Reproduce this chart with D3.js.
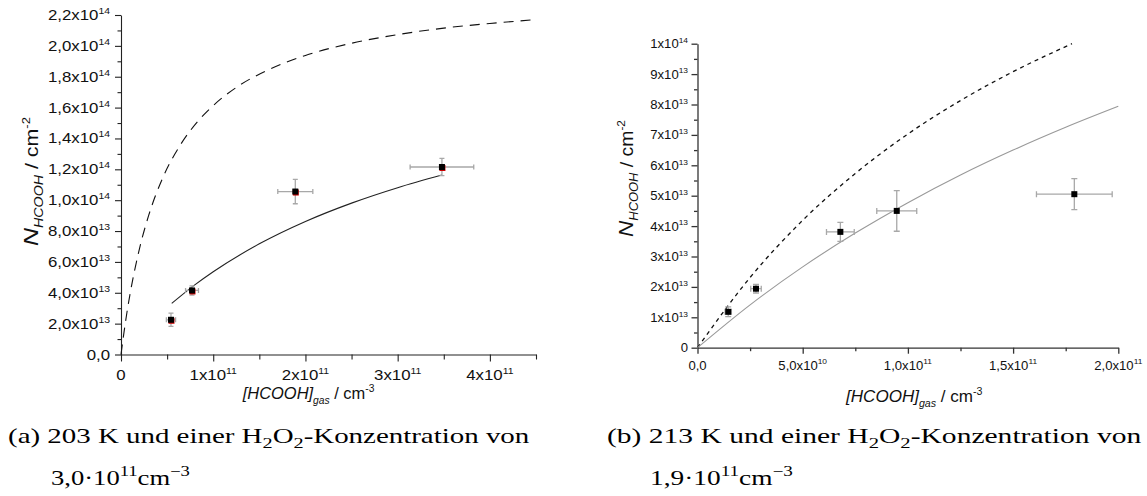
<!DOCTYPE html>
<html><head><meta charset="utf-8">
<script src="https://cdn.jsdelivr.net/npm/d3@7"></script>
<style>body{margin:0;background:#fff} svg{display:block}</style>
</head><body>
<svg id="c" width="1147" height="496"></svg>
<script>
// ---------- Panel (a): 203 K ----------
const aX    = [0.542e11, 0.77e11, 1.89e11, 3.48e11];
const aY    = [2.25e13, 4.15e13, 10.56e13, 12.15e13];
const aXErr = [0.05e11, 0.07e11, 0.19e11, 0.345e11];
const aYErr = [0.43e13, 0.30e13, 0.79e13, 0.56e13];
// solid fit curve
const aFitX = [0.55e11, 0.8e11, 1.0e11, 1.5e11, 2.0e11, 2.5e11, 3.0e11, 3.48e11];
const aFitY = [3.31e13, 4.51e13, 5.36e13, 7.17e13, 8.62e13, 9.81e13, 10.81e13, 11.63e13];
// dashed curve
const aDashX = [0, 0.05e11, 0.1e11, 0.2e11, 0.3e11, 0.45e11, 0.65e11, 0.85e11, 1.0e11, 1.3e11, 1.6e11, 2.0e11, 2.5e11, 3.0e11, 3.5e11, 4.0e11, 4.5e11];
const aDashY = [0, 2.17e13, 3.98e13, 6.85e13, 9.01e13, 11.41e13, 13.64e13, 15.22e13, 16.13e13, 17.5e13, 18.45e13, 19.38e13, 20.17e13, 20.73e13, 21.15e13, 21.45e13, 21.7e13];
const aXTicks = [0, 1e11, 2e11, 3e11, 4e11];
const aXTickLabels = ["0", "1x10^11", "2x10^11", "3x10^11", "4x10^11"];
const aXMinor = [0.5e11, 1.5e11, 2.5e11, 3.5e11, 4.5e11];
const aYTicks = [0, 2e13, 4e13, 6e13, 8e13, 10e13, 12e13, 14e13, 16e13, 18e13, 20e13, 22e13];
const aYTickLabels = ["0,0", "2,0x10^13", "4,0x10^13", "6,0x10^13", "8,0x10^13", "1,0x10^14", "1,2x10^14", "1,4x10^14", "1,6x10^14", "1,8x10^14", "2,0x10^14", "2,2x10^14"];
const aYMinor = [1e13, 3e13, 5e13, 7e13, 9e13, 11e13, 13e13, 15e13, 17e13, 19e13, 21e13];

// ---------- Panel (b): 213 K ----------
const bX    = [1.46e10, 2.78e10, 6.79e10, 9.47e10, 17.91e10];
const bY    = [1.18e13, 1.94e13, 3.81e13, 4.50e13, 5.05e13];
const bXErr = [0.15e10, 0.25e10, 0.66e10, 0.95e10, 1.80e10];
const bYErr = [0.16e13, 0.14e13, 0.31e13, 0.67e13, 0.51e13];
const bFitX = [0, 2.5e10, 5e10, 7.5e10, 10e10, 12.5e10, 15e10, 17.5e10, 20e10];
const bFitY = [0, 1.41e13, 2.66e13, 3.77e13, 4.77e13, 5.68e13, 6.50e13, 7.25e13, 7.94e13];
const bDashX = [0, 2.5e10, 5e10, 7.5e10, 10e10, 12.5e10, 15e10, 17.8e10];
const bDashY = [0, 2.31e13, 4.19e13, 5.73e13, 7.03e13, 8.13e13, 9.08e13, 10.0e13];
const bXTicks = [0, 5e10, 10e10, 15e10, 20e10];
const bXTickLabels = ["0,0", "5,0x10^10", "1,0x10^11", "1,5x10^11", "2,0x10^11"];
const bXMinor = [2.5e10, 7.5e10, 12.5e10, 17.5e10];
const bYTicks = [0, 1e13, 2e13, 3e13, 4e13, 5e13, 6e13, 7e13, 8e13, 9e13, 10e13];
const bYTickLabels = ["0", "1x10^13", "2x10^13", "3x10^13", "4x10^13", "5x10^13", "6x10^13", "7x10^13", "8x10^13", "9x10^13", "1x10^14"];
const bYMinor = [0.5e13, 1.5e13, 2.5e13, 3.5e13, 4.5e13, 5.5e13, 6.5e13, 7.5e13, 8.5e13, 9.5e13];

const captionA = ["(a) 203 K und einer H_2O_2-Konzentration von", "3,0·10^11cm^−3"];
const captionB = ["(b) 213 K und einer H_2O_2-Konzentration von", "1,9·10^11cm^−3"];

const SANS = "'Liberation Sans', Arial, sans-serif";
const SERIF = "'Liberation Serif', 'Times New Roman', serif";
const svg = d3.select("#c");

function tickLabel(g, str, x, y, anchor, size, supSize, sx) {
  const [base, sup] = str.split("^");
  const gg = g.append("g").attr("transform", `translate(${x},${y}) scale(${sx},1)`);
  const t = gg.append("text").attr("text-anchor", anchor)
    .attr("font-family", SANS).attr("font-size", size).attr("fill", "#111");
  t.append("tspan").text(base);
  if (sup) t.append("tspan").attr("font-size", supSize).attr("dy", -size * 0.42).text(sup);
}

function panel(o) {
  const g = svg.append("g");
  const x = o.x, y = o.y;
  const y0 = y.range()[0], x0 = x.range()[0];
  const gx = g.append("g").attr("transform", `translate(0,${y0})`);
  gx.call(d3.axisBottom(x).tickValues(o.xTicks).tickFormat("").tickSize(o.xMaj).tickSizeOuter(0));
  gx.append("g").call(d3.axisBottom(x).tickValues(o.xMinor).tickFormat("").tickSize(o.xMin).tickSizeOuter(0))
    .select(".domain").remove();
  const gy = g.append("g").attr("transform", `translate(${x0},0)`);
  gy.call(d3.axisLeft(y).tickValues(o.yTicks).tickFormat("").tickSize(o.yMaj).tickSizeOuter(0));
  gy.append("g").call(d3.axisLeft(y).tickValues(o.yMinor).tickFormat("").tickSize(o.yMin).tickSizeOuter(0))
    .select(".domain").remove();
  g.selectAll(".domain, .tick line").attr("stroke", o.axisColor).attr("stroke-width", o.axisW);

  o.xTicks.forEach((v, i) => tickLabel(g, o.xLabels[i], x(v), o.xLabelY, "middle", o.fs, o.fsSup, o.sx));
  o.yTicks.forEach((v, i) => tickLabel(g, o.yLabels[i], o.yLabelX, y(v) + o.yLabelDy, "end", o.fs, o.fsSup, o.sx));

  const line = d3.line().x(d => x(d[0])).y(d => y(d[1])).curve(d3.curveMonotoneX);
  g.append("path").datum(d3.zip(o.dashX, o.dashY)).attr("d", line)
    .attr("fill", "none").attr("stroke", "#111").attr("stroke-width", o.dashW).attr("stroke-dasharray", o.dash);
  g.append("path").datum(d3.zip(o.fitX, o.fitY)).attr("d", line)
    .attr("fill", "none").attr("stroke", o.fitColor).attr("stroke-width", 1.1);

  const pts = o.px.map((v, i) => ({x: v, y: o.py[i], ex: o.pex[i], ey: o.pey[i]}));
  const eb = g.append("g").attr("stroke", "#a8a8a8").attr("stroke-width", 1.3).attr("fill", "none");
  const c = o.cap;
  pts.forEach(p => {
    const cx = x(p.x), cy = y(p.y);
    const xl = x(p.x - p.ex), xr = x(p.x + p.ex), yt = y(p.y + p.ey), yb = y(p.y - p.ey);
    eb.append("path").attr("d",
      `M${xl},${cy}H${xr}M${xl},${cy - c}V${cy + c}M${xr},${cy - c}V${cy + c}` +
      `M${cx},${yt}V${yb}M${cx - c},${yt}H${cx + c}M${cx - c},${yb}H${cx + c}`);
  });
  const m = o.ms;
  if (o.redTint) g.append("g").selectAll("rect").data(pts).join("rect")
    .attr("x", d => x(d.x) - m / 2 + 0.5).attr("y", d => y(d.y) - m / 2 + 1)
    .attr("width", m).attr("height", m).attr("fill", "#c00");
  g.append("g").selectAll("rect").data(pts).join("rect")
    .attr("x", d => x(d.x) - m / 2).attr("y", d => y(d.y) - m / 2)
    .attr("width", m).attr("height", m).attr("fill", "#000");

  fitRich(g, o.xTitleParts, o.xTitle[0], o.xTitle[1], o.xTitle[2], false);
  fitRich(g, o.yTitleParts, o.yTitle[0], o.yTitle[1], o.yTitle[2], true);
}

function buildRich(t, parts) {
  let shift = 0;
  parts.forEach(p => {
    const ts = t.append("tspan").text(p.t).attr("font-size", p.s);
    if (p.i) ts.attr("font-style", "italic");
    const target = p.d || 0;
    ts.attr("dy", target - shift);
    shift = target;
  });
}
function fitRich(g, parts, a, b, base, rotated) {
  const gg = g.append("g");
  const t = gg.append("text").attr("font-family", SANS).attr("fill", "#111");
  buildRich(t, parts);
  const bb = t.node().getBBox();
  const s = (b - a) / bb.width;
  if (!rotated) {
    gg.attr("transform", `translate(${a - bb.x * s},${base}) scale(${s},1)`);
  } else {
    gg.attr("transform", `translate(${base},${b + bb.x * s}) rotate(-90) scale(${s},1)`);
  }
}

const xTitleParts = [
  {t: "[HCOOH]", s: 16, i: true}, {t: "gas", s: 10, i: true, d: 5},
  {t: " / cm", s: 16, d: 0}, {t: "-3", s: 10, d: -7}];
const yTitleParts = [
  {t: "N", s: 21, i: true}, {t: "HCOOH", s: 12, i: true, d: 5},
  {t: " / cm", s: 18, d: 0}, {t: "-2", s: 11, d: -8}];

panel({
  x: d3.scaleLinear([0, 4.5e11], [121, 536]),
  y: d3.scaleLinear([0, 2.2e14], [354.5, 15]),
  xTicks: aXTicks, xMinor: aXMinor, yTicks: aYTicks, yMinor: aYMinor,
  xLabels: aXTickLabels, yLabels: aYTickLabels,
  xMaj: 7, xMin: 5, yMaj: 6, yMin: 3.5, axisColor: "#222", axisW: 1.1,
  fs: 14.5, fsSup: 9, sx: 1.16, xLabelY: 380, yLabelX: 110, yLabelDy: 5,
  dashX: aDashX, dashY: aDashY, dash: "10,7", dashW: 1.1,
  fitX: aFitX, fitY: aFitY, fitColor: "#222",
  px: aX, py: aY, pex: aXErr, pey: aYErr, cap: 2.5, ms: 6, redTint: true,
  xTitleParts, yTitleParts,
  xTitle: [241.7, 375, 399], yTitle: [117, 246, 38]
});

panel({
  x: d3.scaleLinear([0, 2e11], [697.5, 1118.3]),
  y: d3.scaleLinear([0, 1e14], [347.7, 43.7]),
  xTicks: bXTicks, xMinor: bXMinor, yTicks: bYTicks, yMinor: bYMinor,
  xLabels: bXTickLabels, yLabels: bYTickLabels,
  xMaj: 6, xMin: 3.5, yMaj: 6, yMin: 3.5, axisColor: "#333", axisW: 1.3,
  fs: 12.5, fsSup: 8, sx: 1.05, xLabelY: 369.5, yLabelX: 688, yLabelDy: 4.5,
  dashX: bDashX, dashY: bDashY, dash: "4,4", dashW: 1.3,
  fitX: bFitX, fitY: bFitY, fitColor: "#999",
  px: bX, py: bY, pex: bXErr, pey: bYErr, cap: 3, ms: 6, redTint: false,
  xTitleParts, yTitleParts,
  xTitle: [845, 983, 402], yTitle: [120, 237, 633]
});

function caption(str, x0, x1, y, size) {
  const g = svg.append("g");
  const t = g.append("text").attr("font-family", SERIF).attr("font-size", size).attr("fill", "#000");
  const re = /([_^])([^_^A-Za-zÀ-ž\-]+|−\d+)/g;
  let last = 0, m, shift = 0;
  const push = (txt, d, fs) => {
    const ts = t.append("tspan").text(txt).attr("dy", d - shift);
    if (fs) ts.attr("font-size", fs);
    shift = d;
  };
  while ((m = re.exec(str)) !== null) {
    if (m.index > last) push(str.slice(last, m.index), 0);
    push(m[2], m[1] === "_" ? size * 0.25 : -size * 0.42, size * 0.7);
    last = re.lastIndex;
  }
  if (last < str.length) push(str.slice(last), 0);
  const bb = t.node().getBBox();
  const s = (x1 - x0) / bb.width;
  g.attr("transform", `translate(${x0 - bb.x * s},${y}) scale(${s},1)`);
}
caption(captionA[0], 8, 530, 443, 21);
caption(captionA[1], 51, 190, 485, 21);
caption(captionB[0], 607, 1142, 443, 21);
caption(captionB[1], 650, 793, 485, 21);
</script>
</body></html>
